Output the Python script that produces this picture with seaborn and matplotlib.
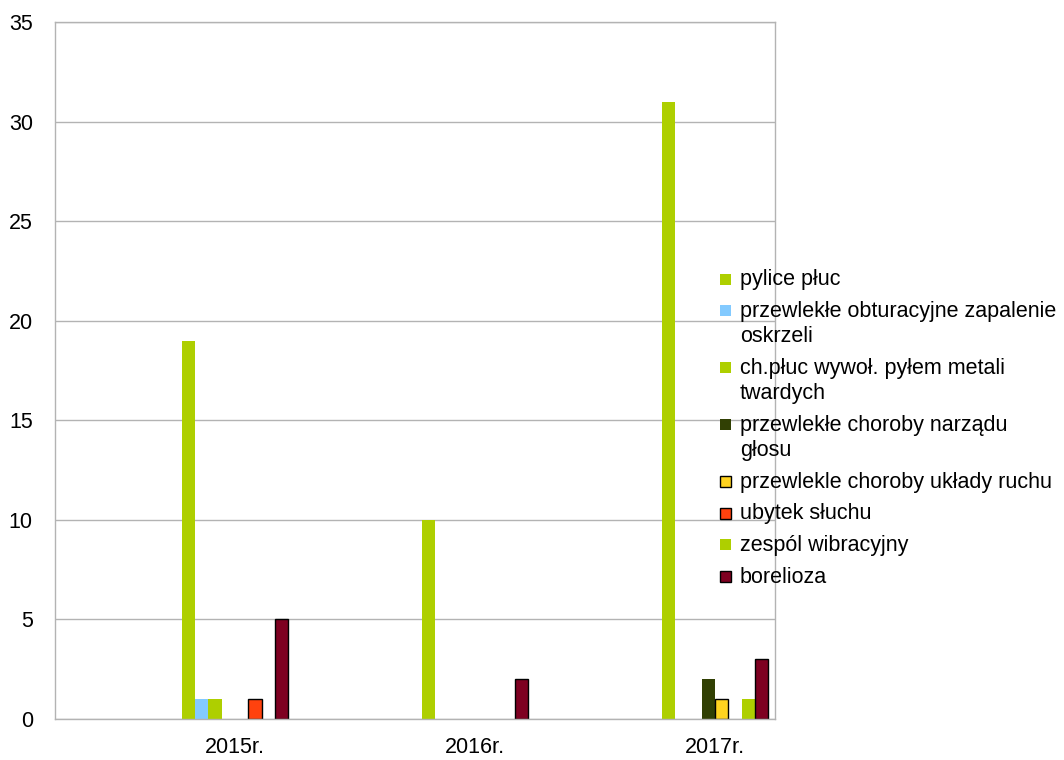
import pandas as pd
import numpy as np
import matplotlib
matplotlib.use("Agg")
import matplotlib.pyplot as plt
import seaborn as sns

years = ["2015r.", "2016r.", "2017r."]
series = [
    "pylice płuc",
    "przewlekłe obturacyjne zapalenie\noskrzeli",
    "ch.płuc wywoł. pyłem metali\ntwardych",
    "przewlekłe choroby narządu\ngłosu",
    "przewlekle choroby układy ruchu",
    "ubytek słuchu",
    "zespól wibracyjny",
    "borelioza",
]
values = [
    [19, 10, 31],
    [1, 0, 0],
    [1, 0, 0],
    [0, 0, 2],
    [0, 0, 1],
    [1, 0, 0],
    [0, 0, 1],
    [5, 2, 3],
]
colors = ["#aecf00", "#83caff", "#aecf00", "#314004",
          "#ffd320", "#ff420e", "#aecf00", "#7e0021"]
outlined = [False, False, False, False, True, True, False, True]

rows = []
for s, vals in zip(series, values):
    for y, v in zip(years, vals):
        rows.append({"rok": y, "choroba": s, "liczba": v})
df = pd.DataFrame(rows)

sns.set_style("white")
plt.rcParams["font.family"] = ["Liberation Sans", "DejaVu Sans"]
plt.rcParams["font.size"] = 15.5

W, H = 1064, 760
fig = plt.figure(figsize=(W / 100, H / 100), dpi=100)
ax = fig.add_axes([55 / W, 1 - 719 / H, 720 / W, 697 / H])

sns.barplot(data=df, x="rok", y="liczba", hue="choroba", order=years,
            hue_order=series, palette=colors, width=0.444, dodge=True,
            gap=0, saturation=1, errorbar=None, legend=False, ax=ax)

# obramowanie tylko niektorych slupkow (i tylko niezerowych)
for cont, edge in zip(ax.containers, outlined):
    for p in cont.patches:
        p.set_linewidth(0)
        if edge and p.get_height() > 0:
            p.set_edgecolor("#000000")
            p.set_linewidth(1.0)

gray = "#b3b3b3"
ax.set_xlim(-0.75, 2.25)
ax.set_ylim(0, 35)
ax.set_yticks(range(0, 36, 5))
ax.yaxis.grid(True, color=gray, linewidth=1)
ax.set_axisbelow(True)
ax.set_xticks([0, 1, 2])
ax.set_xticklabels(years)
ax.set_xticks(np.arange(-0.75, 2.3, 0.5), minor=True)
ax.tick_params(axis="x", which="major", length=0, pad=13, labelsize=15.5,
               labelcolor="black")
ax.tick_params(axis="x", which="minor", length=10, color=gray, width=1)
ax.tick_params(axis="y", length=10, color=gray, width=1, pad=6, labelsize=15.5,
               labelcolor="black")
ax.set_xlabel("")
ax.set_ylabel("")
for sp in ax.spines.values():
    sp.set_color(gray)
    sp.set_linewidth(1)

# legenda rysowana recznie - kwadracik przy pierwszej linii opisu
y = 280
for lab, c, edge in zip(series, colors, outlined):
    sq = plt.Rectangle(((720) / W, 1 - (y + 4.5) / H), 11 / W, 11 / H,
                       transform=fig.transFigure, facecolor=c,
                       edgecolor="#000000" if edge else c,
                       linewidth=1 if edge else 0)
    fig.patches.append(sq)
    lines = lab.split("\n")
    for i, line in enumerate(lines):
        fig.text(740 / W, 1 - (y + i * 25) / H, line, va="center", ha="left",
                 fontsize=15.5, color="black")
    y += (len(lines) - 1) * 25 + 31.8

fig.savefig("out.png", dpi=100)
